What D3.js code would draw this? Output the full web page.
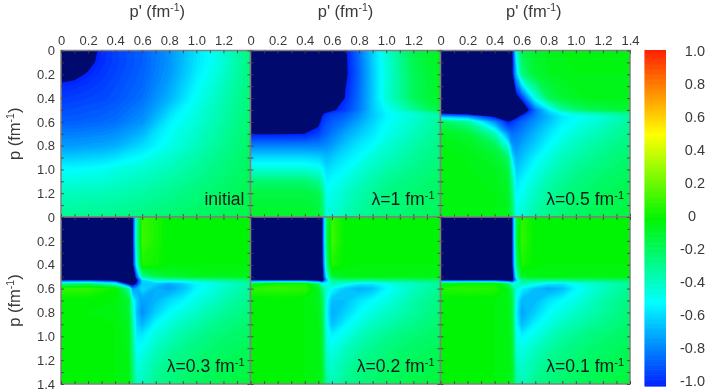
<!DOCTYPE html>
<html><head><meta charset="utf-8">
<script src="https://cdn.jsdelivr.net/npm/d3@7"></script>
<style>
html,body{margin:0;padding:0;background:#fff}
svg{display:block;filter:blur(0.45px);font-family:"Liberation Sans",Arial,sans-serif}
</style></head><body><svg id="c" width="706" height="392"></svg>
<script>
const initialKnots=[0,.1,.2,.3,.4,.6,.8,1,1.2,1.4];
const knots=[0,.2,.4,.5,.53,.56,.6,.7,.8,.9,1,1.1,1.2,1.4];
const initial=[
[-1.3,-1.2,-1.05,-.98,-.93,-.86,-.74,-.56,-.42,-.24],
[-1.2,-1.13,-1.03,-.97,-.93,-.86,-.74,-.56,-.42,-.24],
[-1.05,-1.03,-.99,-.95,-.92,-.85,-.73,-.54,-.4,-.24],
[-.98,-.97,-.95,-.93,-.9,-.84,-.7,-.51,-.37,-.24],
[-.94,-.93,-.92,-.91,-.89,-.82,-.67,-.48,-.35,-.23],
[-.86,-.86,-.85,-.84,-.82,-.74,-.53,-.42,-.32,-.22],
[-.72,-.72,-.71,-.7,-.68,-.58,-.46,-.37,-.28,-.2],
[-.5,-.5,-.49,-.48,-.45,-.41,-.36,-.3,-.24,-.18],
[-.37,-.37,-.36,-.36,-.35,-.32,-.28,-.24,-.2,-.16],
[-.29,-.29,-.28,-.28,-.27,-.25,-.22,-.19,-.17,-.14]];
const lambda1=[
[-1.4,-1.4,-1.4,-1.4,-1.4,-1.4,-1.4,-1.02,-.82,-.6,-.42,-.28,-.15,-.05],
[-1.4,-1.4,-1.4,-1.4,-1.4,-1.4,-1.4,-1.03,-.84,-.62,-.44,-.3,-.17,-.06],
[-1.4,-1.4,-1.4,-1.4,-1.4,-1.35,-1.3,-.98,-.82,-.62,-.42,-.3,-.18,-.07],
[-1.4,-1.4,-1.4,-1.4,-1.2,-1.1,-1.03,-.93,-.8,-.62,-.5,-.4,-.3,-.12],
[-1.3,-1.3,-1.3,-1.3,-1.02,-.97,-.93,-.87,-.76,-.62,-.52,-.46,-.42,-.28],
[-1.3,-1.3,-1.3,-1.1,-.98,-.93,-.9,-.84,-.74,-.62,-.52,-.47,-.42,-.32],
[-1.3,-1.3,-1.25,-1.05,-.95,-.9,-.87,-.8,-.7,-.6,-.5,-.45,-.4,-.3],
[-1.01,-1.01,-1,-.93,-.88,-.85,-.8,-.7,-.62,-.55,-.47,-.42,-.37,-.28],
[-.78,-.78,-.78,-.78,-.77,-.75,-.72,-.62,-.55,-.5,-.42,-.38,-.33,-.26],
[-.58,-.58,-.58,-.6,-.62,-.65,-.62,-.55,-.5,-.42,-.38,-.34,-.3,-.24],
[-.42,-.42,-.42,-.45,-.5,-.58,-.55,-.5,-.43,-.38,-.33,-.3,-.27,-.22],
[-.22,-.22,-.22,-.28,-.36,-.52,-.5,-.44,-.38,-.33,-.29,-.26,-.24,-.2],
[-.13,-.13,-.13,-.15,-.25,-.48,-.46,-.4,-.34,-.3,-.26,-.24,-.22,-.19],
[-.08,-.08,-.08,-.1,-.18,-.42,-.42,-.35,-.3,-.26,-.24,-.22,-.2,-.17]];
const lambda05=[
[-1.4,-1.4,-1.4,-1.4,-1.05,-.45,-.15,-.08,-.05,-.04,-.04,-.04,-.04,-.04],
[-1.4,-1.4,-1.4,-1.4,-1.05,-.65,-.25,-.1,-.06,-.05,-.04,-.04,-.04,-.04],
[-1.4,-1.4,-1.4,-1.3,-1.15,-1.08,-.95,-.45,-.18,-.1,-.07,-.05,-.05,-.05],
[-1.3,-1.3,-1.35,-1.35,-1.3,-1.25,-1.2,-.82,-.55,-.32,-.22,-.17,-.14,-.1],
[-1,-1.1,-1.2,-1.25,-1.25,-1.2,-1.05,-.8,-.62,-.5,-.42,-.38,-.34,-.27],
[-.6,-.7,-1,-1.1,-1.1,-1.03,-.93,-.78,-.66,-.55,-.5,-.46,-.42,-.32],
[-.18,-.3,-.75,-1,-.95,-.9,-.85,-.74,-.63,-.53,-.48,-.44,-.4,-.3],
[-.06,-.1,-.35,-.75,-.82,-.8,-.77,-.66,-.56,-.48,-.42,-.38,-.34,-.27],
[-.04,-.06,-.15,-.45,-.72,-.75,-.7,-.6,-.5,-.42,-.37,-.33,-.3,-.24],
[-.03,-.04,-.08,-.2,-.55,-.68,-.64,-.53,-.44,-.37,-.33,-.29,-.26,-.21],
[-.03,-.04,-.06,-.12,-.4,-.62,-.58,-.47,-.39,-.33,-.29,-.26,-.23,-.19],
[-.03,-.03,-.05,-.09,-.3,-.56,-.52,-.42,-.34,-.29,-.25,-.23,-.2,-.17],
[-.03,-.03,-.04,-.07,-.24,-.52,-.48,-.38,-.31,-.26,-.23,-.2,-.18,-.15],
[-.03,-.03,-.04,-.06,-.18,-.45,-.42,-.32,-.26,-.22,-.19,-.17,-.15,-.12]];
const lambda03=[
[-1.4,-1.4,-1.4,-1.4,-1.05,-.35,.1,.05,-.02,-.02,-.02,-.02,-.02,-.02],
[-1.4,-1.4,-1.4,-1.4,-1.05,-.35,.12,.05,-.02,-.02,-.02,-.02,-.02,-.02],
[-1.4,-1.4,-1.4,-1.4,-1.1,-.45,.05,.03,-.02,-.02,-.02,-.02,-.02,-.02],
[-1.4,-1.4,-1.4,-1.5,-1.3,-.85,-.3,-.15,-.1,-.08,-.06,-.05,-.05,-.05],
[-1,-1,-1.1,-1.3,-1.3,-1.05,-.6,-.42,-.4,-.38,-.35,-.33,-.3,-.25],
[-.3,-.2,-.45,-1.1,-1.15,-.95,-.62,-.62,-.7,-.63,-.52,-.47,-.42,-.32],
[.1,.1,.02,-.3,-.75,-.68,-.58,-.68,-.72,-.64,-.52,-.46,-.4,-.3],
[-.02,-.02,-.02,-.1,-.45,-.62,-.72,-.66,-.58,-.52,-.45,-.4,-.35,-.27],
[-.02,-.02,-.03,-.08,-.38,-.65,-.75,-.6,-.5,-.44,-.39,-.34,-.3,-.24],
[-.02,-.02,-.02,-.06,-.33,-.6,-.66,-.5,-.43,-.37,-.33,-.29,-.26,-.21],
[-.02,-.02,-.02,-.05,-.3,-.54,-.54,-.43,-.37,-.32,-.28,-.25,-.22,-.19],
[-.02,-.02,-.02,-.05,-.27,-.5,-.48,-.38,-.32,-.28,-.25,-.22,-.2,-.17],
[-.02,-.02,-.02,-.04,-.24,-.46,-.43,-.34,-.28,-.25,-.22,-.2,-.18,-.15],
[-.02,-.02,-.02,-.03,-.2,-.38,-.36,-.28,-.24,-.21,-.18,-.16,-.14,-.11]];
const lambda02=[
[-1.4,-1.4,-1.4,-1.4,-1.02,-.2,.1,-.01,-.02,-.02,-.02,-.02,-.02,-.02],
[-1.4,-1.4,-1.4,-1.4,-1.02,-.2,.12,-.01,-.02,-.02,-.02,-.02,-.02,-.02],
[-1.4,-1.4,-1.4,-1.4,-1.05,-.3,.06,-.01,-.02,-.02,-.02,-.02,-.02,-.02],
[-1.4,-1.4,-1.4,-1.4,-1.15,-.5,-.1,-.05,-.04,-.04,-.04,-.04,-.04,-.04],
[-1,-1,-1,-1.15,-1.15,-.7,-.3,-.25,-.25,-.25,-.24,-.24,-.23,-.2],
[-.1,.05,.05,-.2,-.5,-.45,-.35,-.45,-.55,-.55,-.48,-.42,-.38,-.3],
[.08,.1,.08,-.05,-.25,-.42,-.5,-.62,-.68,-.64,-.52,-.45,-.38,-.28],
[-.02,-.02,-.02,-.05,-.15,-.48,-.65,-.64,-.56,-.5,-.45,-.39,-.33,-.25],
[-.02,-.02,-.02,-.04,-.13,-.5,-.68,-.6,-.5,-.44,-.39,-.35,-.31,-.23],
[-.02,-.02,-.02,-.04,-.12,-.48,-.64,-.52,-.44,-.38,-.34,-.3,-.27,-.21],
[-.02,-.02,-.02,-.03,-.1,-.45,-.52,-.45,-.37,-.32,-.28,-.25,-.23,-.19],
[-.02,-.02,-.02,-.03,-.1,-.42,-.46,-.38,-.32,-.28,-.25,-.22,-.2,-.17],
[-.02,-.02,-.02,-.03,-.08,-.38,-.42,-.34,-.28,-.25,-.22,-.2,-.18,-.15],
[-.02,-.02,-.02,-.03,-.07,-.3,-.36,-.28,-.24,-.21,-.18,-.16,-.14,-.11]];
const lambda01=[
[-1.4,-1.4,-1.4,-1.4,-1.03,-.15,.08,-.01,-.02,-.02,-.02,-.02,-.02,-.02],
[-1.4,-1.4,-1.4,-1.4,-1.03,-.15,.1,-.01,-.02,-.02,-.02,-.02,-.02,-.02],
[-1.4,-1.4,-1.4,-1.4,-1.05,-.25,.05,-.01,-.02,-.02,-.02,-.02,-.02,-.02],
[-1.4,-1.4,-1.4,-1.4,-1.15,-.45,-.08,-.04,-.04,-.04,-.04,-.04,-.04,-.04],
[-1,-1,-1,-1.15,-1.15,-.65,-.28,-.25,-.25,-.25,-.24,-.24,-.23,-.2],
[-.08,.03,.03,-.18,-.45,-.42,-.35,-.45,-.55,-.56,-.48,-.42,-.38,-.3],
[.06,.08,.06,-.04,-.22,-.42,-.52,-.64,-.7,-.65,-.52,-.45,-.38,-.28],
[-.02,-.02,-.02,-.04,-.13,-.5,-.66,-.65,-.56,-.5,-.45,-.39,-.33,-.25],
[-.02,-.02,-.02,-.03,-.12,-.52,-.7,-.6,-.5,-.44,-.39,-.35,-.31,-.23],
[-.02,-.02,-.02,-.03,-.1,-.5,-.65,-.52,-.44,-.38,-.34,-.3,-.27,-.21],
[-.02,-.02,-.02,-.03,-.09,-.45,-.52,-.45,-.37,-.32,-.28,-.25,-.23,-.19],
[-.02,-.02,-.02,-.03,-.08,-.42,-.46,-.38,-.32,-.28,-.25,-.22,-.2,-.17],
[-.02,-.02,-.02,-.03,-.07,-.38,-.42,-.34,-.28,-.25,-.22,-.2,-.18,-.15],
[-.02,-.02,-.02,-.03,-.06,-.3,-.36,-.28,-.24,-.21,-.18,-.16,-.14,-.11]];
const panelGrids=[initial,lambda1,lambda05,lambda03,lambda02,lambda01];
const panelKnots=[initialKnots,knots,knots,knots,knots,knots];
const panelLabels=[["initial",""],["λ=1 fm","-1"],["λ=0.5 fm","-1"],["λ=0.3 fm","-1"],["λ=0.2 fm","-1"],["λ=0.1 fm","-1"]];
const axisTicks=d3.range(0,15).map(d=>d/10);
const colorStops=[-1,-.5,0,.5,1];
const colorValues=["#0020ff","#00ffff","#00f500","#ffff00","#ff2000"];
const barTicks=[1,.8,.6,.4,.2,0,-.2,-.4,-.6,-.8,-1];
const belowRange="#000a6e";

const W=[61,250.5,440.5,630], H=[50.5,217,384];
const svg=d3.select("#c");
const color=d3.scaleLinear().domain(colorStops).range(colorValues).clamp(true);
const thresholds=d3.range(-1,0.3,0.02);
const fmt=d=>d===0?"0":d.toFixed(1);
const tc="#3a3a3a";

panelGrids.forEach((grid,k)=>{
  const col=k%3,row=Math.floor(k/3),kn=panelKnots[k],n=kn.length;
  const x=d3.scaleLinear().domain([0,1.4]).range([W[col],W[col+1]]);
  const y=d3.scaleLinear().domain([0,1.4]).range([H[row],H[row+1]]);
  const idx=d3.scaleLinear().domain(d3.range(n)).range(kn).clamp(true);
  const tr=d3.geoTransform({point(a,b){this.stream.point(x(idx(a-.5)),y(idx(b-.5)));}});
  const path=d3.geoPath(tr);
  const g=svg.append("g");
  g.append("rect").attr("x",x(0)).attr("y",y(0)).attr("width",x(1.4)-x(0)).attr("height",y(1.4)-y(0)).attr("fill",belowRange);
  const cs=d3.contours().size([n,n]).thresholds(thresholds)(d3.merge(grid));
  g.selectAll("path").data(cs).join("path").attr("d",path).attr("fill",d=>color(d.value+.01));
  g.append("rect").attr("x",x(0)).attr("y",y(0)).attr("width",x(1.4)-x(0)).attr("height",y(1.4)-y(0)).attr("fill","none").attr("stroke","#808080").attr("stroke-width",1.5);
  const styleAxis=s=>{s.select(".domain").remove();s.selectAll("line").attr("stroke","#444").attr("stroke-width",.9);s.selectAll("text").attr("fill",tc).attr("font-size",13);};
  const tickLab=(show)=>d=>{const t=Math.round(d*10);return show(t)&&t%2===0?fmt(d):"";};
  const topShow=t=>row===0&&(t<14||col===2);
  const leftShow=t=>col===0&&(row===1||t<14);
  g.append("g").attr("transform",`translate(0,${y(0)})`).call(d3.axisTop(x).tickValues(axisTicks).tickSize(-3).tickPadding(6).tickFormat(tickLab(topShow))).call(styleAxis);
  g.append("g").attr("transform",`translate(0,${y(1.4)})`).call(d3.axisBottom(x).tickValues(axisTicks).tickSize(-3).tickFormat("")).call(styleAxis);
  g.append("g").attr("transform",`translate(${x(0)},0)`).call(d3.axisLeft(y).tickValues(axisTicks).tickSize(-3).tickPadding(6).tickFormat(tickLab(leftShow))).call(styleAxis);
  g.append("g").attr("transform",`translate(${x(1.4)},0)`).call(d3.axisRight(y).tickValues(axisTicks).tickSize(-3).tickFormat("")).call(styleAxis);
  const lab=g.append("text").attr("x",x(1.4)-6).attr("y",y(1.4)-12.5).attr("text-anchor","end").attr("font-size",17.6).attr("fill","#1a1a1a").text(panelLabels[k][0]);
  if(panelLabels[k][1]) lab.append("tspan").attr("dy",-6).attr("font-size",11).text(panelLabels[k][1]);
  if(row===0){
    const t=g.append("text").attr("x",(x(0)+x(1.4))/2+(col===2?-1.5:col===0?1.5:0)).attr("y",17).attr("text-anchor","middle").attr("font-size",16.5).attr("fill",tc).text("p' (fm");
    t.append("tspan").attr("dy",-6).attr("font-size",10.5).text("-1");
    t.append("tspan").attr("dy",6).text(")");
  }
  if(col===0){
    const t=g.append("text").attr("transform",`translate(20,${(y(0)+y(1.4))/2}) rotate(-90)`).attr("text-anchor","middle").attr("font-size",16.5).attr("fill",tc).text("p (fm");
    t.append("tspan").attr("dy",-6).attr("font-size",10.5).text("-1");
    t.append("tspan").attr("dy",6).text(")");
  }
});

const by=d3.scaleLinear().domain([1,-1]).range([50,386]);
const bar=svg.append("g");
bar.selectAll("rect").data(d3.range(-1,1,0.01)).join("rect").attr("x",644.5).attr("width",21.5)
  .attr("y",d=>by(d+.01)).attr("height",d=>by(d)-by(d+.01)+.6).attr("fill",d=>color(d+.005));
const ly=d3.scaleLinear().domain([1,-1]).range([51,381]);
bar.selectAll("text").data(barTicks).join("text").attr("x",d=>d===0?692:705).attr("y",d=>ly(d)+5)
  .attr("text-anchor",d=>d===0?"middle":"end").attr("font-size",14.5).attr("fill",tc).text(fmt);
</script></body></html>
